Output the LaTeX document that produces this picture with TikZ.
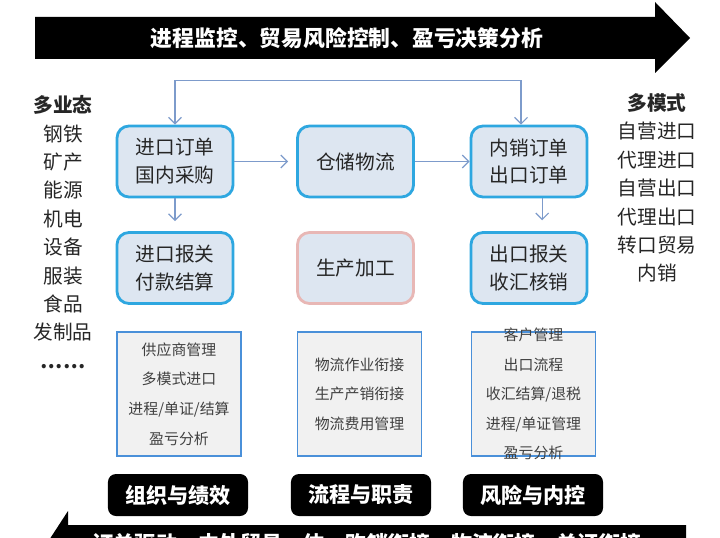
\documentclass[tikz,border=0pt]{standalone}
\usepackage{fontspec}
\setmainfont{Noto Sans CJK SC}
\usetikzlibrary{arrows.meta, positioning, calc}

\definecolor{boxblue}{HTML}{2EA7E0}
\definecolor{boxfill}{HTML}{DDE6F1}
\definecolor{boxpink}{HTML}{E8B7B5}
\definecolor{linkblue}{HTML}{7D9BCB}
\definecolor{infoline}{HTML}{4A90D9}
\definecolor{infofill}{HTML}{F1F1F1}

\begin{document}
\begin{tikzpicture}[
    x=0.025cm, y=-0.025cm,
    block/.style={rectangle, rounded corners=0.3cm, draw=#1, line width=2pt, fill=boxfill, minimum width=2.9cm, minimum height=1.775cm, align=center, text=black!85, font=\fontsize{14}{19.8}\selectfont},
    block/.default=boxblue,
    infobox/.style={rectangle, draw=infoline, line width=0.8pt, fill=infofill, minimum width=3.1cm, minimum height=3.1cm},
    infotext/.style={align=center, text=black!75, font=\fontsize{10.6}{21}\selectfont},
    tag/.style={rectangle, rounded corners=0.2cm, fill=black, text=white, minimum width=3.5cm, minimum height=1.05cm, font=\fontsize{15}{18}\selectfont\bfseries},
    banner/.style={text=white, font=\fontsize{15.5}{18}\selectfont\bfseries},
    side/.style={align=center, text=black!85, font=\fontsize{14}{20.2}\selectfont},
    arrow/.style={-{Straight Barb[length=1.6mm, width=3.2mm]}, line width=0.8pt, linkblue},
    both/.style={arrow, {Straight Barb[length=1.6mm, width=3.2mm]}-{Straight Barb[length=1.6mm, width=3.2mm]}}
]
\useasboundingbox (0,0) rectangle (720,537);
\clip (0,0) rectangle (720,537);

% Top banner arrow
\fill[black] (35,17) -- (655,17) -- (655,2) -- (690,38) -- (655,73) -- (655,59) -- (35,59) -- cycle;
\node[banner] (goal) at (347,38) {进程监控、贸易风险控制、盈亏决策分析};

% Bottom banner arrow (pointing back)
\fill[black] (686,525) -- (68,525) -- (68,511) -- (40,554) -- (68,597) -- (68,583) -- (686,583) -- cycle;
\node[banner, font=\fontsize{15}{18}\selectfont\bfseries] (base) at (367,544) {订单驱动、内外贸易一体、购销衔接、物流衔接、单证衔接};

% Business lines
\node[side] (sectors) at (63,232) {{\bfseries 多业态}\\钢铁\\矿产\\能源\\机电\\设备\\服装\\食品\\发制品\\{\bfseries ……}};
\node[side] (modes) at (657,188) {{\bfseries 多模式}\\自营进口\\代理进口\\自营出口\\代理出口\\转口贸易\\内销};

% Process blocks
\node[block] (b1) at (175,161.5) {进口订单\\国内采购};
\node[block] (b2) at (355.5,161.5) {仓储物流};
\node[block] (b3) at (529,161.5) {内销订单\\出口订单};
\node[block] (b4) at (175,268) {进口报关\\付款结算};
\node[block=boxpink] (b5) at (355.5,268) {生产加工};
\node[block] (b6) at (529,268) {出口报关\\收汇核销};

% Process links
\draw[both] (b1.north) -- ++(0,-44) -| ([xshift=-0.2cm]b3.north);
\draw[arrow, shorten >=0.2cm] (b1) -- (b2);
\draw[arrow] (b2) -- (b3);
\draw[arrow, shorten >=0.25cm] (b1) -- (b4);
\draw[arrow, shorten >=0.27cm] ([xshift=0.33cm]b3.south) -- ([xshift=0.33cm]b6.north);

% Management scope
\node[infobox] (f1) at (179,394) {};
\node[infobox] (f2) at (359.5,394) {};
\node[infobox] (f3) at (533.5,394) {};
\node[infotext] (t1) at (f1) {供应商管理\\多模式进口\\进程/单证/结算\\盈亏分析};
\node[infotext] (t2) at (f2) {物流作业衔接\\生产产销衔接\\物流费用管理};
\node[infotext] (t3) at (f3) {客户管理\\出口流程\\收汇结算/退税\\进程/单证管理\\盈亏分析};

% Focus tags
\node[tag] (g1) at (178,495) {组织与绩效};
\node[tag] (g2) at (361,495) {流程与职责};
\node[tag] (g3) at (533,495) {风险与内控};

\end{tikzpicture}
\end{document}
